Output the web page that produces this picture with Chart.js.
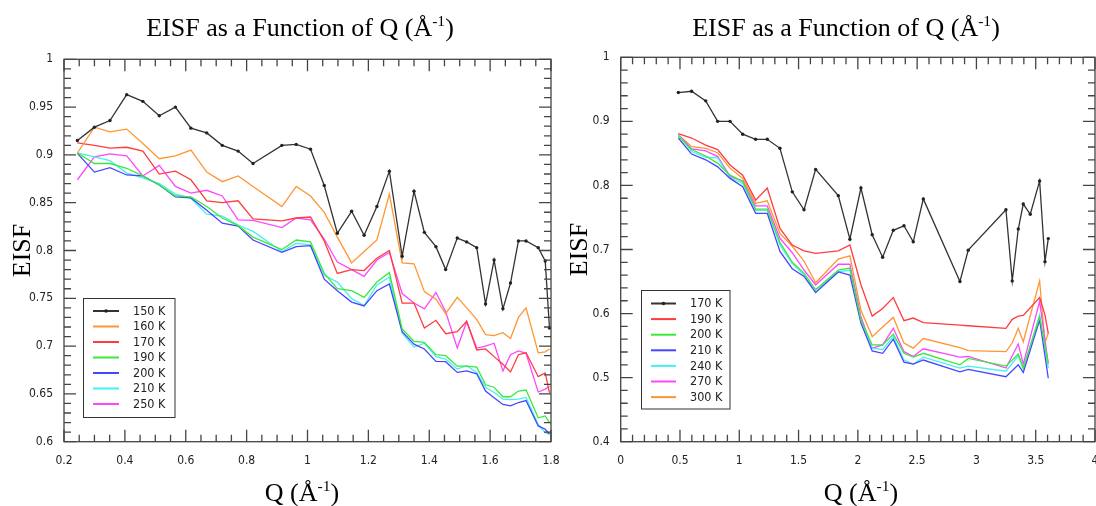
<!DOCTYPE html>
<html>
<head>
<meta charset="utf-8">
<script src="https://cdn.jsdelivr.net/npm/chart.js@4"></script>
<style>
  body { margin: 0; background: #fff; }
  #wrap { position: relative; width: 1096px; height: 506px; overflow: hidden; }
  canvas { position: absolute; top: 0; }
  #left { left: 0; }
  #right { left: 560px; }
</style>
</head>
<body>
<div id="wrap">
  <canvas id="left" width="560" height="506"></canvas>
  <canvas id="right" width="536" height="506"></canvas>
</div>
<script>
// ---- left panel: Q values and EISF per temperature ----
const qLeft = [0.244, 0.300, 0.351, 0.406, 0.459, 0.513, 0.566, 0.617, 0.669, 0.720, 0.772, 0.821, 0.916, 0.963, 1.010, 1.055, 1.098, 1.145, 1.186, 1.228, 1.269, 1.311, 1.350, 1.384, 1.422, 1.454, 1.492, 1.523, 1.556, 1.585, 1.613, 1.642, 1.667, 1.693, 1.718, 1.758, 1.781, 1.795];
const eisf150 = [0.915, 0.929, 0.936, 0.963, 0.956, 0.941, 0.950, 0.928, 0.923, 0.910, 0.904, 0.891, 0.910, 0.911, 0.906, 0.868, 0.818, 0.841, 0.816, 0.846, 0.883, 0.794, 0.862, 0.819, 0.804, 0.780, 0.813, 0.809, 0.803, 0.744, 0.790, 0.739, 0.766, 0.810, 0.810, 0.803, 0.789, 0.719];
const eisf160 = [0.902, 0.929, 0.924, 0.927, 0.912, 0.896, 0.899, 0.905, 0.882, 0.872, 0.878, 0.867, 0.846, 0.867, 0.857, 0.840, 0.814, 0.787, 0.799, 0.811, 0.859, 0.787, 0.786, 0.757, 0.749, 0.734, 0.751, 0.740, 0.728, 0.712, 0.711, 0.714, 0.708, 0.730, 0.740, 0.693, 0.694, 0.697];
const eisf170 = [0.9125, 0.910, 0.907, 0.908, 0.904, 0.880, 0.883, 0.874, 0.852, 0.850, 0.852, 0.833, 0.831, 0.834, 0.835, 0.810, 0.776, 0.780, 0.779, 0.792, 0.800, 0.745, 0.745, 0.719, 0.727, 0.713, 0.715, 0.726, 0.696, 0.697, 0.689, 0.681, 0.673, 0.691, 0.693, 0.668, 0.672, 0.651];
const eisf190 = [0.902, 0.891, 0.891, 0.886, 0.878, 0.8685, 0.857, 0.856, 0.846, 0.834, 0.826, 0.814, 0.801, 0.811, 0.809, 0.776, 0.760, 0.758, 0.751, 0.767, 0.777, 0.718, 0.705, 0.704, 0.691, 0.690, 0.679, 0.679, 0.678, 0.6595, 0.657, 0.647, 0.647, 0.653, 0.654, 0.625, 0.627, 0.620];
const eisf200 = [0.9016, 0.882, 0.8866, 0.879, 0.878, 0.8685, 0.856, 0.855, 0.842, 0.8285, 0.8256, 0.811, 0.798, 0.804, 0.805, 0.770, 0.758, 0.746, 0.742, 0.758, 0.765, 0.715, 0.702, 0.697, 0.684, 0.6837, 0.6725, 0.674, 0.671, 0.653, 0.646, 0.639, 0.6375, 0.641, 0.643, 0.6165, 0.613, 0.608];
const eisf210 = [0.902, 0.898, 0.894, 0.881, 0.876, 0.870, 0.859, 0.8546, 0.838, 0.836, 0.8267, 0.820, 0.799, 0.8075, 0.806, 0.774, 0.767, 0.7496, 0.7425, 0.764, 0.772, 0.7135, 0.699, 0.703, 0.689, 0.6865, 0.676, 0.6795, 0.6725, 0.657, 0.6515, 0.6445, 0.644, 0.6445, 0.6463, 0.618, 0.6095, 0.608];
const eisf250 = [0.874, 0.898, 0.901, 0.899, 0.878, 0.889, 0.867, 0.860, 0.863, 0.857, 0.832, 0.8315, 0.824, 0.834, 0.832, 0.812, 0.788, 0.780, 0.773, 0.790, 0.798, 0.755, 0.745, 0.739, 0.756, 0.736, 0.698, 0.7255, 0.698, 0.700, 0.703, 0.674, 0.691, 0.695, 0.6925, 0.652, 0.655, 0.658];
const labelsLeft = ['150 K', '160 K', '170 K', '190 K', '200 K', '210 K', '250 K'];

// ---- right panel (null = no point there, line runs straight across) ----
const qRight = [0.486, 0.598, 0.717, 0.818, 0.922, 1.029, 1.138, 1.236, 1.343, 1.447, 1.546, 1.644, 1.835, 1.933, 2.026, 2.121, 2.209, 2.299, 2.389, 2.467, 2.552, 2.861, 2.931, 3.249, 3.302, 3.353, 3.395, 3.454, 3.533, 3.578, 3.606];
const eisfR170 = [0.945, 0.947, 0.932, 0.900, 0.900, 0.880, 0.872, 0.872, 0.858, 0.790, 0.762, 0.825, 0.784, 0.716, 0.796, 0.723, 0.688, 0.730, 0.737, 0.712, 0.779, 0.650, 0.699, 0.762, 0.651, 0.732, 0.771, 0.755, 0.807, 0.681, 0.717];
const eisfR190 = [0.881, 0.874, 0.863, 0.856, 0.832, 0.816, 0.777, 0.796, 0.733, 0.707, 0.698, 0.694, 0.698, 0.707, 0.645, 0.596, 0.608, 0.625, 0.589, 0.593, 0.586, 0.582, 0.581, 0.577, 0.591, 0.596, 0.597, null, 0.625, 0.598, 0.569];
const eisfR200 = [0.877, 0.856, 0.846, 0.8345, 0.816, 0.806, 0.763, 0.763, 0.711, 0.680, 0.663, 0.637, 0.668, 0.671, 0.590, 0.551, 0.551, 0.568, 0.538, 0.532, 0.538, 0.520, 0.530, 0.518, null, 0.537, 0.515, null, 0.595, null, 0.522];
const eisfR210 = [0.874, 0.849, 0.840, 0.829, 0.811, 0.798, 0.7565, 0.7565, 0.697, 0.670, 0.658, 0.633, 0.665, 0.660, 0.585, 0.5416, 0.538, 0.560, 0.524, 0.521, 0.5275, 0.509, 0.513, 0.5015, null, 0.520, 0.508, null, 0.590, null, 0.499];
const eisfR240 = [0.879, 0.853, 0.844, 0.843, 0.812, 0.803, 0.761, 0.761, 0.707, 0.678, 0.660, 0.637, 0.665, 0.668, 0.588, 0.546, 0.544, 0.564, 0.5275, 0.521, 0.532, 0.515, 0.518, 0.510, null, 0.534, 0.513, null, 0.598, null, 0.515];
const eisfR270 = [0.879, 0.857, 0.854, 0.845, 0.814, 0.807, 0.768, 0.768, 0.7175, 0.695, 0.668, 0.6446, 0.677, 0.677, 0.595, 0.546, 0.551, 0.577, 0.5405, 0.533, 0.545, 0.532, 0.533, 0.515, null, 0.5525, 0.521, null, 0.619, null, 0.522];
const eisfR300 = [0.879, 0.8605, 0.858, 0.851, 0.827, 0.811, 0.772, 0.776, 0.725, 0.705, 0.682, 0.648, 0.685, 0.690, 0.605, 0.564, 0.579, 0.594, 0.554, 0.546, 0.561, 0.547, 0.542, 0.5405, 0.554, 0.577, 0.556, null, 0.651, 0.554, 0.570];
const labelsRight = ['170 K', '190 K', '200 K', '210 K', '240 K', '270 K', '300 K'];

const BLACK = '#333', ORANGE = 'rgb(255,150,50)', RED = 'rgb(255,60,60)', GREEN = 'rgb(60,232,60)',
      BLUE = 'rgb(70,70,255)', CYAN = 'rgb(70,240,240)', MAGENTA = 'rgb(255,70,255)';
const sans = '"DejaVu Sans Condensed", "DejaVu Sans", sans-serif';
const tickFont = { family: sans, size: 12 };
const serif = '"Liberation Serif", "Times New Roman", serif';

function series(label, q, vals, color) {
  const marked = color === BLACK;
  return {
    label: label,
    data: q.map((x, i) => ({ x: x, y: vals[i] })),
    borderColor: color,
    backgroundColor: color,
    borderWidth: 1.3,
    pointRadius: marked ? 1.7 : 0,
    pointBorderWidth: 0,
    pointBackgroundColor: '#222',
    spanGaps: true,
    tension: 0
  };
}

// plain tick text: 1, 0.95, 0.9 ...
const plainNum = v => String(Math.round(v * 1000) / 1000);

// title text with the "-1" superscript
function supText(ctx, pre, sup, post, cx, baseY, size) {
  ctx.font = size + 'px ' + serif;
  const w1 = ctx.measureText(pre).width, w3 = ctx.measureText(post).width;
  ctx.font = (size * 0.6) + 'px ' + serif;
  const w2 = ctx.measureText(sup).width;
  let x = cx - (w1 + w2 + w3) / 2;
  ctx.textAlign = 'left';
  ctx.textBaseline = 'alphabetic';
  ctx.font = size + 'px ' + serif;
  ctx.fillText(pre, x, baseY);
  ctx.font = (size * 0.6) + 'px ' + serif;
  ctx.fillText(sup, x + w1, baseY - size * 0.4);
  ctx.font = size + 'px ' + serif;
  ctx.fillText(post, x + w1 + w2, baseY);
}

// box, inward ticks, titles and the boxed legend
const decor = {
  id: 'decor',
  afterDatasetsDraw(chart, args, o) {
    const ctx = chart.ctx, a = chart.chartArea, x = chart.scales.x, y = chart.scales.y;
    ctx.save();
    ctx.strokeStyle = '#444';
    ctx.lineWidth = 1.3;
    ctx.strokeRect(a.left, a.top, a.right - a.left, a.bottom - a.top);

    const isMajor = (v, m) => Math.abs(v / m - Math.round(v / m)) < 1e-6;
    ctx.beginPath();
    for (let v = o.xMin; v <= o.xMax + 1e-9; v += o.xMinor) {
      const px = x.getPixelForValue(v), len = isMajor(v, o.xMajor) ? 12 : 7;
      ctx.moveTo(px, a.bottom); ctx.lineTo(px, a.bottom - len);
      ctx.moveTo(px, a.top); ctx.lineTo(px, a.top + len);
    }
    for (let v = o.yMin; v <= o.yMax + 1e-9; v += o.yMinor) {
      const py = y.getPixelForValue(v), len = isMajor(v, o.yMajor) ? 12 : 7;
      ctx.moveTo(a.left, py); ctx.lineTo(a.left + len, py);
      ctx.moveTo(a.right, py); ctx.lineTo(a.right - len, py);
    }
    ctx.stroke();

    // titles
    ctx.fillStyle = '#000';
    supText(ctx, 'EISF as a Function of Q (Å', '-1', ')', o.titleX, 36, 26);
    supText(ctx, 'Q (Å', '-1', ')', o.qX, 501, 26);
    ctx.save();
    ctx.translate(o.eisfX, (a.top + a.bottom) / 2);
    ctx.rotate(-Math.PI / 2);
    ctx.font = '26px ' + serif;
    ctx.textAlign = 'center';
    ctx.fillText('EISF', 0, 0);
    ctx.restore();

    // legend
    const L = o.legend;
    ctx.fillStyle = '#fff';
    ctx.fillRect(L.x, L.y, L.w, L.h);
    ctx.strokeStyle = '#333';
    ctx.lineWidth = 1;
    ctx.strokeRect(L.x, L.y, L.w, L.h);
    ctx.font = '12.5px ' + sans;
    ctx.textBaseline = 'middle';
    ctx.textAlign = 'left';
    chart.data.datasets.forEach((ds, i) => {
      const ry = L.row0 + i * L.dy;
      ctx.strokeStyle = ds.borderColor;
      ctx.lineWidth = 2;
      ctx.beginPath();
      ctx.moveTo(L.x0, ry); ctx.lineTo(L.x1, ry);
      ctx.stroke();
      if (ds.pointRadius > 0) {
        ctx.fillStyle = '#222';
        ctx.beginPath();
        ctx.arc((L.x0 + L.x1) / 2, ry, 1.8, 0, Math.PI * 2);
        ctx.fill();
      }
      ctx.fillStyle = '#222';
      ctx.fillText(ds.label, L.tx, ry + 0.5);
    });
    ctx.restore();
  }
};

function makeChart(id, datasets, s) {
  return new Chart(document.getElementById(id), {
    type: 'line',
    data: { datasets: datasets },
    options: {
      responsive: false,
      animation: false,
      devicePixelRatio: 1,
      layout: { autoPadding: false, padding: s.padding },
      plugins: {
        legend: { display: false },
        tooltip: { enabled: false },
        decor: s.decor
      },
      scales: {
        x: {
          type: 'linear', min: s.decor.xMin, max: s.decor.xMax,
          afterFit: sc => { sc.height = 64; sc.paddingLeft = 0; sc.paddingRight = 0; },
          grid: { display: false, drawTicks: false },
          border: { display: false },
          ticks: { stepSize: s.decor.xMajor, padding: 12, font: tickFont, color: '#222', maxRotation: 0, autoSkip: false, callback: plainNum }
        },
        y: {
          type: 'linear', min: s.decor.yMin, max: s.decor.yMax,
          afterFit: sc => { sc.width = 40; sc.paddingTop = 0; sc.paddingBottom = 0; },
          grid: { display: false, drawTicks: false },
          border: { display: false },
          ticks: { stepSize: s.decor.yMajor, padding: 11, font: tickFont, color: '#222', autoSkip: false, callback: plainNum }
        }
      }
    },
    plugins: [decor]
  });
}

const leftVals = [eisf150, eisf160, eisf170, eisf190, eisf200, eisf210, eisf250];
const leftColors = [BLACK, ORANGE, RED, GREEN, BLUE, CYAN, MAGENTA];
makeChart('left', leftVals.map((v, i) => series(labelsLeft[i], qLeft, v, leftColors[i])), {
  padding: { left: 24, right: 9, top: 59.3, bottom: 0.3 },
  decor: {
    xMin: 0.2, xMax: 1.8, xMinor: 0.05, xMajor: 0.2,
    yMin: 0.6, yMax: 1, yMinor: 0.01, yMajor: 0.05,
    titleX: 300, qX: 302, eisfX: 30,
    legend: { x: 83.5, y: 298.5, w: 91.5, h: 119, x0: 93, x1: 119, tx: 133, row0: 311, dy: 15.5 }
  }
});

const rightVals = [eisfR170, eisfR190, eisfR200, eisfR210, eisfR240, eisfR270, eisfR300];
const rightColors = [BLACK, RED, GREEN, BLUE, CYAN, MAGENTA, ORANGE];
makeChart('right', rightVals.map((v, i) => series(labelsRight[i], qRight, v, rightColors[i])), {
  padding: { left: 20.7, right: 1, top: 57.3, bottom: 0.3 },
  decor: {
    xMin: 0, xMax: 4, xMinor: 0.1, xMajor: 0.5,
    yMin: 0.4, yMax: 1, yMinor: 0.02, yMajor: 0.1,
    titleX: 286, qX: 301, eisfX: 27,
    legend: { x: 81.5, y: 290.5, w: 88.5, h: 118.5, x0: 91, x1: 116, tx: 130, row0: 303.5, dy: 15.6 }
  }
});
</script>
</body>
</html>
